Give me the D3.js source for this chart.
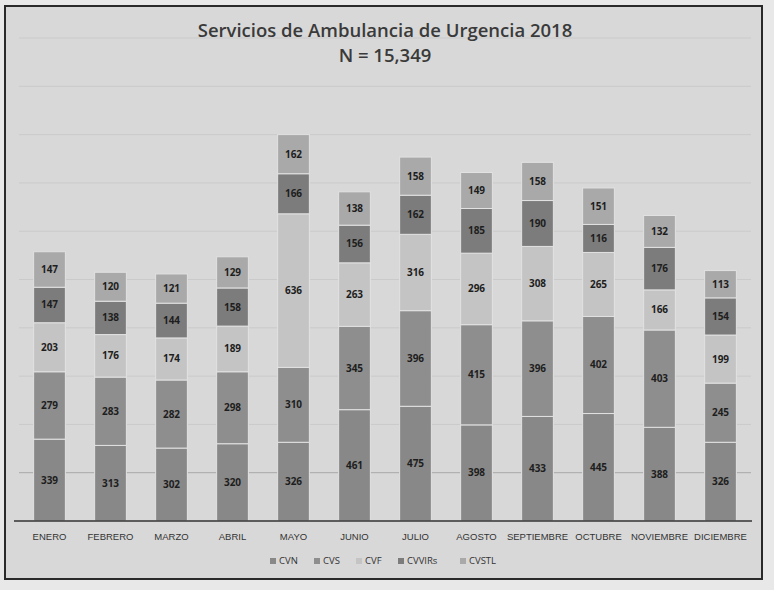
<!DOCTYPE html>
<html>
<head>
<meta charset="utf-8">
<script src="https://cdn.jsdelivr.net/npm/d3@7"></script>
<style>
  body { margin: 0; background: #e8e8e8; }
  text { font-family: "Open Sans", "Liberation Sans", sans-serif; }
</style>
</head>
<body>
<div id="graph"></div>
<script>
const months = ["ENERO", "FEBRERO", "MARZO", "ABRIL", "MAYO", "JUNIO", "JULIO", "AGOSTO", "SEPTIEMBRE", "OCTUBRE", "NOVIEMBRE", "DICIEMBRE"];
const seriesNames = ["CVN", "CVS", "CVF", "CVVIRs", "CVSTL"];
const cvn = [339, 313, 302, 320, 326, 461, 475, 398, 433, 445, 388, 326];
const cvs = [279, 283, 282, 298, 310, 345, 396, 415, 396, 402, 403, 245];
const cvf = [203, 176, 174, 189, 636, 263, 316, 296, 308, 265, 166, 199];
const cvvirs = [147, 138, 144, 158, 166, 156, 162, 185, 190, 116, 176, 154];
const cvstl = [147, 120, 121, 129, 162, 138, 158, 149, 158, 151, 132, 113];
const colors = ["#888888", "#8e8e8e", "#c4c4c4", "#7c7c7c", "#a9a9a9"];

const W = 774, H = 590;
const data = months.map((m, i) => ({
  month: m, CVN: cvn[i], CVS: cvs[i], CVF: cvf[i], CVVIRs: cvvirs[i], CVSTL: cvstl[i]
}));
const stacked = d3.stack().keys(seriesNames)(data);

const x = d3.scaleBand().domain(months).range([19, 751]).paddingInner(0.48).paddingOuter(0.24);
const y = d3.scaleLinear().domain([0, 2000]).range([521, 38]);
const color = d3.scaleOrdinal().domain(seriesNames).range(colors);

const svg = d3.select("#graph").append("svg")
  .attr("width", W)
  .attr("height", H);

// chart frame
svg.append("rect")
  .attr("x", 5).attr("y", 6)
  .attr("width", 757).attr("height", 573)
  .attr("fill", "#d8d8d8")
  .attr("stroke", "#2a2a2a")
  .attr("stroke-width", 2);

// gridlines (faint in the scan)
svg.append("g")
  .selectAll("line")
  .data(y.ticks(10).filter(d => d > 0))
  .enter().append("line")
  .attr("x1", 19).attr("x2", 751)
  .attr("y1", d => y(d)).attr("y2", d => y(d))
  .attr("stroke", d => d === 200 ? "#a8a8a8" : "#cacaca")
  .attr("stroke-width", 1);

const groups = svg.append("g")
  .selectAll("g")
  .data(stacked)
  .enter().append("g")
  .attr("fill", d => color(d.key));

groups.selectAll("rect")
  .data(d => d)
  .enter().append("rect")
  .attr("x", d => x(d.data.month))
  .attr("width", x.bandwidth())
  .attr("y", d => y(d[1]))
  .attr("height", d => y(d[0]) - y(d[1]))
  .attr("stroke", "#e2e2e2")
  .attr("stroke-width", 1);

groups.selectAll("text")
  .data(d => d.map(v => ({ v, key: d.key })))
  .enter().append("text")
  .attr("x", d => x(d.v.data.month) + x.bandwidth() / 2)
  .attr("y", d => (y(d.v[0]) + y(d.v[1])) / 2 + 3.5)
  .attr("text-anchor", "middle")
  .attr("font-size", "10px")
  .attr("font-weight", "bold")
  .attr("fill", "#1e1e1e")
  .text(d => d.v.data[d.key]);

// x axis
const xAxis = svg.append("g")
  .attr("transform", "translate(0," + y(0) + ")")
  .call(d3.axisBottom(x).tickSize(0).tickPadding(12));
xAxis.select(".domain")
  .attr("d", "M14,0H752")
  .attr("stroke", "#333")
  .attr("stroke-width", 1.5);
xAxis.selectAll("text")
  .attr("font-size", "9.5px")
  .attr("fill", "#333")
  .style("font-family", "'Liberation Sans Narrow', 'Liberation Sans', sans-serif");

// title
svg.append("text")
  .attr("x", 385).attr("y", 37)
  .attr("text-anchor", "middle")
  .attr("font-size", "18.5px")
  .attr("font-weight", 600)
  .attr("fill", "#3a3a3a")
  .text("Servicios de Ambulancia de Urgencia 2018");
svg.append("text")
  .attr("x", 385).attr("y", 62)
  .attr("text-anchor", "middle")
  .attr("font-size", "18.5px")
  .attr("font-weight", 600)
  .attr("fill", "#3a3a3a")
  .text("N = 15,349");

// legend
const legendWidths = [44, 42, 42, 62, 50];
const legendX = d3.cumsum([0].concat(legendWidths.slice(0, -1)));
const legend = svg.append("g")
  .attr("transform", "translate(" + 270 + "," + 563 + ")")
  .selectAll("g")
  .data(seriesNames)
  .enter().append("g")
  .attr("transform", (d, i) => "translate(" + legendX[i] + ",0)");
legend.append("rect")
  .attr("x", 0).attr("y", -5)
  .attr("width", 6).attr("height", 6)
  .attr("fill", d => color(d));
legend.append("text")
  .attr("x", 9).attr("y", 1)
  .attr("font-size", "9.5px")
  .attr("fill", "#333")
  .text(d => d);
</script>
</body>
</html>
